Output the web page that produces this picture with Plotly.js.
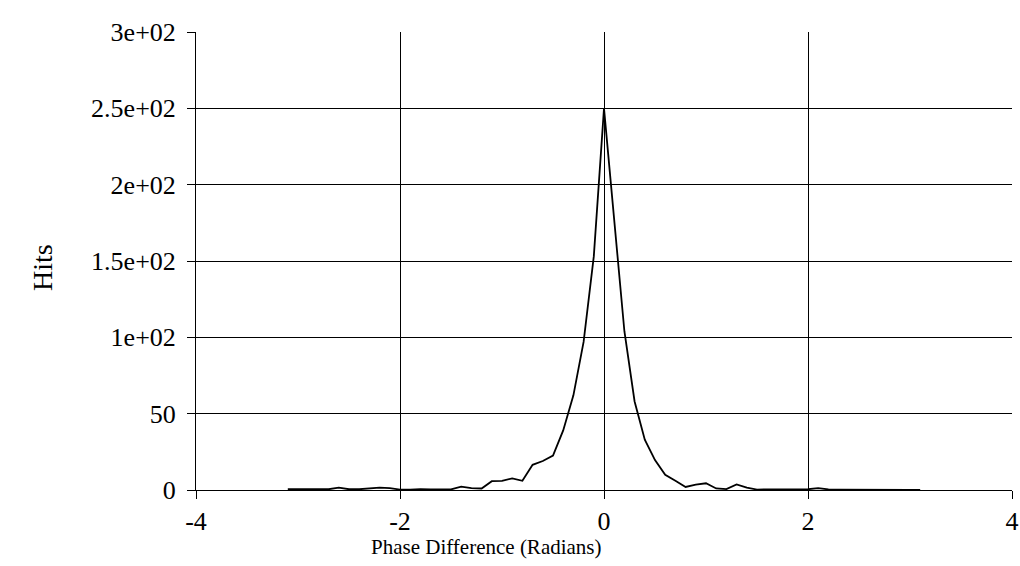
<!DOCTYPE html>
<html>
<head>
<meta charset="utf-8">
<script src="https://cdn.plot.ly/plotly-3.0.1.min.js"></script>
<style>
  html, body { margin: 0; padding: 0; background: #fff; }
  #chart { width: 1020px; height: 566px; }
</style>
</head>
<body>
<div id="chart"></div>
<script>
// Phase difference histogram: bin centres (radians) and hit counts
const phase = [
  -3.1, -3.0, -2.9, -2.8, -2.7, -2.6, -2.5, -2.4, -2.3, -2.2, -2.1,
  -2.0, -1.9, -1.8, -1.7, -1.6, -1.5, -1.4, -1.3, -1.2, -1.1,
  -1.0, -0.9, -0.8, -0.7, -0.6, -0.5, -0.4, -0.3, -0.2, -0.1,
  0.0,
  0.1, 0.2, 0.3, 0.4, 0.5, 0.6, 0.7, 0.8, 0.9, 1.0,
  1.1, 1.2, 1.3, 1.4, 1.5, 1.6, 1.7, 1.8, 1.9, 2.0,
  2.1, 2.2, 2.3, 2.4, 2.5, 2.6, 2.7, 2.8, 2.9, 3.0, 3.1
];
const hits = [
  0.5, 0.5, 0.5, 0.3, 0.5, 1.5, 0.5, 0.5, 0.8, 1.5, 1.2,
  0.3, 0.2, 0.6, 0.4, 0.2, 0.4, 2.2, 1.2, 1.0, 5.8,
  6.0, 7.6, 6.0, 16.5, 19, 22.5, 39, 62, 97, 153,
  250,
  176, 104, 58, 33, 19.6, 10, 6, 2, 3.5, 4.4,
  1.0, 0.6, 3.7, 1.5, 0.3, 0.3, 0.2, 0.2, 0.3, 0.5,
  1.2, 0.4, 0.3, 0.2, 0.3, 0.2, 0.2, 0.2, 0.1, 0.1, 0.1
];

// Axis ticks
const xTickVals = [-4, -2, 0, 2, 4];
const xTickText = ["-4", "-2", "0", "2", "4"];
const yTickVals = [0, 50, 100, 150, 200, 250, 300];
const yTickText = ["0", "50", "1e+02", "1.5e+02", "2e+02", "2.5e+02", "3e+02"];

// Axis titles
const xTitle = "Phase Difference (Radians)";
const yTitle = "Hits";

const serif = "Liberation Serif";

const trace = {
  x: phase,
  y: hits,
  type: "scatter",
  mode: "lines",
  line: { color: "#000", width: 1.8 },
  hoverinfo: "x+y"
};

function axisStyle(extra) {
  return Object.assign({
    tickmode: "array",
    ticks: "outside",
    ticklen: 8,
    tickwidth: 1,
    tickcolor: "#000",
    tickfont: { family: serif, size: 26, color: "#000" },
    showgrid: true,
    gridcolor: "#000",
    gridwidth: 1,
    zeroline: false,
    showline: true,
    linecolor: "#000",
    linewidth: 1,
    fixedrange: true
  }, extra);
}

const layout = {
  width: 1020,
  height: 566,
  margin: { l: 196, r: 8, t: 32, b: 76 },
  paper_bgcolor: "#fff",
  plot_bgcolor: "#fff",
  showlegend: false,
  font: { family: serif, size: 26, color: "#000" },
  xaxis: axisStyle({
    range: [-4, 4],
    tickvals: xTickVals,
    ticktext: xTickText
  }),
  yaxis: axisStyle({
    range: [0, 300],
    tickvals: yTickVals,
    ticktext: yTickText,
    ticklabelstandoff: 6
  }),
  annotations: [
    {
      text: xTitle, xref: "paper", yref: "paper",
      x: 0.3554, y: -0.1245, xanchor: "center", yanchor: "middle",
      showarrow: false, font: { family: serif, size: 21, color: "#000" }
    },
    {
      text: yTitle, xref: "paper", yref: "paper",
      x: -0.1887, y: 0.4847, xanchor: "center", yanchor: "middle",
      textangle: -90,
      showarrow: false, font: { family: serif, size: 28, color: "#000" }
    }
  ]
};

Plotly.newPlot("chart", [trace], layout, { displayModeBar: false, staticPlot: true });
</script>
</body>
</html>
